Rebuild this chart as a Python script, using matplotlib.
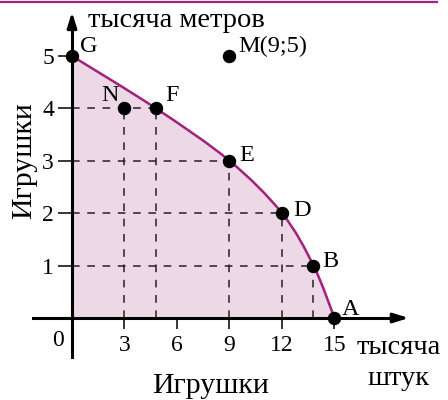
import matplotlib
matplotlib.use("Agg")
import matplotlib.pyplot as plt
from matplotlib.path import Path
from matplotlib.patches import PathPatch
from matplotlib.lines import Line2D
import numpy as np

# ---- data ----
frontier_x = [0, 4.8, 9, 12, 13.8, 15]
frontier_y = [5, 4, 3, 2, 1, 0]
point_names = ["G", "N", "F", "E", "D", "B", "A", "M(9;5)"]
point_x = [0, 3, 4.8, 9, 12, 13.8, 15, 9]
point_y = [5, 4, 4, 3, 2, 1, 0, 5]
# label offsets (points) and horizontal alignment
label_dx = [6, -4, 7, 7, 8, 6, 5, 6]
label_dy = [3, 5, 5, 0, -2, -1, 2, 3]
label_ha = ["left", "right", "left", "left", "left", "left", "left", "left"]
dashed_points = ["N", "F", "E", "D", "B"]
xticks = [3, 6, 9, 12, 15]
yticks = [1, 2, 3, 4, 5]
x_unit = "тысяча"
x_unit2 = "штук"
y_unit = "тысяча метров"
x_label = "Игрушки"
y_label = "Игрушки"

CURVE = "#a3237f"
FILL = "#ecd9e5"
FONT = "Liberation Serif"

fig = plt.figure(figsize=(4.48, 4.0), dpi=100)
ax = fig.add_axes([0, 0, 1, 1])
ax.set_xlim(-4.114, 21.486)
ax.set_ylim(-1.565, 6.069)
ax.patch.set_alpha(0)

# smooth frontier via Catmull-Rom -> cubic Bezier path
P = np.column_stack([frontier_x, frontier_y]).astype(float)
ext = np.vstack([P[0], P, P[-1]])
verts = [tuple(P[0])]
codes = [Path.MOVETO]
for i in range(1, len(ext) - 2):
    p0, p1, p2, p3 = ext[i - 1], ext[i], ext[i + 1], ext[i + 2]
    c1 = p1 + (p2 - p0) / 6.0
    c2 = p2 - (p3 - p1) / 6.0
    verts += [tuple(c1), tuple(c2), tuple(p2)]
    codes += [Path.CURVE4] * 3

fill_verts = [(0, 0)] + verts + [(0, 0)]
fill_codes = [Path.MOVETO] + [Path.LINETO] + codes[1:] + [Path.CLOSEPOLY]
ax.add_patch(PathPatch(Path(fill_verts, fill_codes), facecolor=FILL,
                       edgecolor=CURVE, lw=1.0, zorder=1))
ax.add_patch(PathPatch(Path(verts, codes), facecolor="none",
                       edgecolor=CURVE, lw=1.8, zorder=3))

# dashed guide lines
for name in dashed_points:
    i = point_names.index(name)
    x, y = point_x[i], point_y[i]
    ax.vlines(x, 0, y, colors="#222222", linestyles=(0, (5, 5)), lw=1.1, zorder=2)
    if name != "N":
        ax.hlines(y, 0, x, colors="#222222", linestyles=(0, (5, 5)), lw=1.1, zorder=2)

# axes as spines
for s in ["top", "right"]:
    ax.spines[s].set_visible(False)
ax.spines["left"].set_position(("data", 0))
ax.spines["bottom"].set_position(("data", 0))
ax.spines["left"].set_bounds(-0.744, 5.6)
ax.spines["bottom"].set_bounds(-2.23, 18.6)
for s in ["left", "bottom"]:
    ax.spines[s].set_linewidth(2.2)
    ax.spines[s].set_zorder(4)
ax.set_xticks(xticks)
ax.set_xticklabels([str(v) for v in xticks])
ax.set_yticks(yticks)
ax.set_yticklabels([str(v) for v in yticks])
ax.tick_params(axis="x", direction="out", length=8, width=1.1, pad=4,
               labelsize=17, labelfontfamily=FONT)
ax.tick_params(axis="y", direction="out", length=10, width=1.1, pad=3,
               labelsize=17, labelfontfamily=FONT)

# arrowheads
ax.annotate("", xy=(0, 5.84), xytext=(0, 5.5),
            arrowprops=dict(arrowstyle="-|>,head_length=0.9,head_width=0.28",
                            color="black", lw=2.2, shrinkA=0, shrinkB=0), zorder=5)
ax.annotate("", xy=(19.25, 0), xytext=(18.4, 0),
            arrowprops=dict(arrowstyle="-|>,head_length=0.9,head_width=0.28",
                            color="black", lw=2.2, shrinkA=0, shrinkB=0), zorder=5)

# points and labels
ax.scatter(point_x, point_y, s=75, color="black", zorder=6, clip_on=False)
for name, x, y, dx, dy, ha in zip(point_names, point_x, point_y, label_dx, label_dy, label_ha):
    ax.annotate(name, (x, y), xytext=(dx, dy), textcoords="offset points",
                ha=ha, va="baseline", fontsize=17.5, family=FONT, zorder=7)

# axis texts
ax.text(-0.8, -0.42, "0", ha="center", va="center", fontsize=17, family=FONT)
ax.text(0.914, 5.553, y_unit, ha="left", va="baseline", fontsize=20.5, family=FONT)
ax.text(18.66, -0.687, x_unit, ha="center", va="baseline", fontsize=20.5, family=FONT)
ax.text(18.66, -1.279, x_unit2, ha="center", va="baseline", fontsize=20.5, family=FONT)
ax.text(7.91, -1.425, x_label, ha="center", va="baseline", fontsize=21.5, family=FONT)
ax.text(-2.75, 3.0, y_label, ha="center", va="center", rotation=90,
        fontsize=21.5, family=FONT)

# top border line
fig.add_artist(Line2D([0, 437 / 448], [1 - 1.5 / 400, 1 - 1.5 / 400],
                      transform=fig.transFigure, color=CURVE, lw=1.6))

fig.savefig("out.png", dpi=100)
